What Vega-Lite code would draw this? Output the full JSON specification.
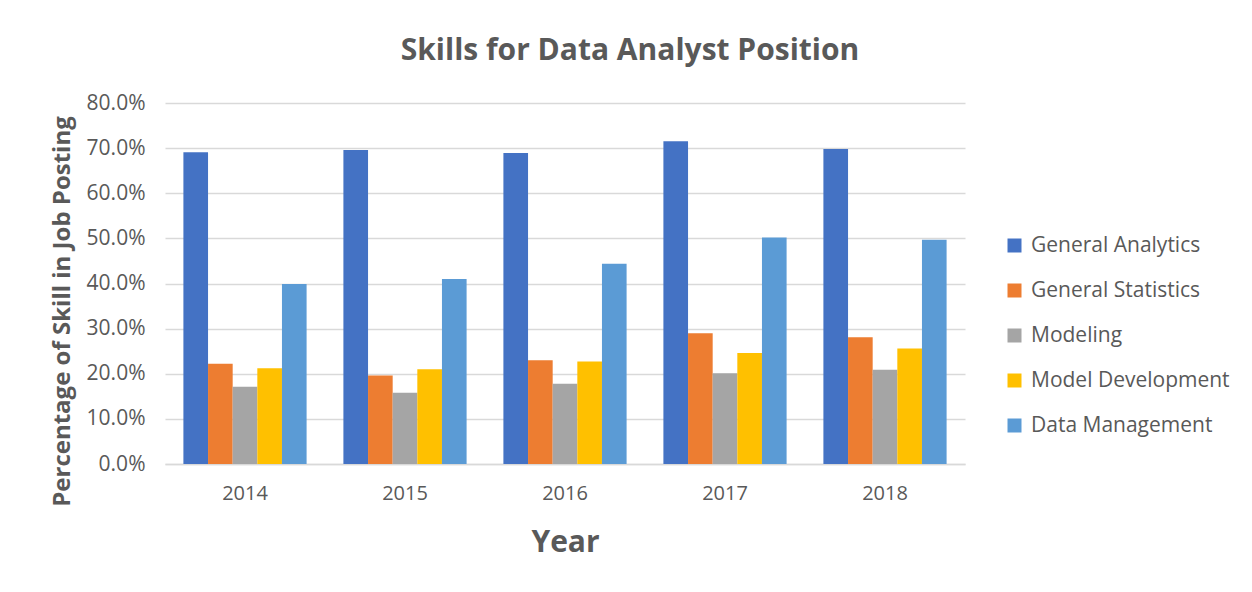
{
  "$schema": "https://vega.github.io/schema/vega-lite/v6.json",
  "autosize": "none",
  "width": 800,
  "height": 361,
  "padding": {"left": 165, "top": 103, "right": 287, "bottom": 128},
  "background": "white",
  "title": {
    "text": "Skills for Data Analyst Position",
    "font": "Open Sans",
    "fontSize": 30,
    "fontWeight": "bold",
    "color": "#595959",
    "anchor": "middle",
    "dx": 65,
    "offset": 26
  },
  "data": {
    "values": [
      {"Year": "2014", "Skill": "General Analytics", "Value": 0.691},
      {"Year": "2014", "Skill": "General Statistics", "Value": 0.222},
      {"Year": "2014", "Skill": "Modeling", "Value": 0.171},
      {"Year": "2014", "Skill": "Model Development", "Value": 0.212},
      {"Year": "2014", "Skill": "Data Management", "Value": 0.399},
      {"Year": "2015", "Skill": "General Analytics", "Value": 0.696},
      {"Year": "2015", "Skill": "General Statistics", "Value": 0.196},
      {"Year": "2015", "Skill": "Modeling", "Value": 0.158},
      {"Year": "2015", "Skill": "Model Development", "Value": 0.210},
      {"Year": "2015", "Skill": "Data Management", "Value": 0.410},
      {"Year": "2016", "Skill": "General Analytics", "Value": 0.689},
      {"Year": "2016", "Skill": "General Statistics", "Value": 0.230},
      {"Year": "2016", "Skill": "Modeling", "Value": 0.178},
      {"Year": "2016", "Skill": "Model Development", "Value": 0.227},
      {"Year": "2016", "Skill": "Data Management", "Value": 0.444},
      {"Year": "2017", "Skill": "General Analytics", "Value": 0.715},
      {"Year": "2017", "Skill": "General Statistics", "Value": 0.290},
      {"Year": "2017", "Skill": "Modeling", "Value": 0.201},
      {"Year": "2017", "Skill": "Model Development", "Value": 0.246},
      {"Year": "2017", "Skill": "Data Management", "Value": 0.502},
      {"Year": "2018", "Skill": "General Analytics", "Value": 0.698},
      {"Year": "2018", "Skill": "General Statistics", "Value": 0.281},
      {"Year": "2018", "Skill": "Modeling", "Value": 0.209},
      {"Year": "2018", "Skill": "Model Development", "Value": 0.256},
      {"Year": "2018", "Skill": "Data Management", "Value": 0.497}
    ]
  },
  "mark": {"type": "bar"},
  "encoding": {
    "x": {
      "field": "Year",
      "type": "nominal",
      "scale": {"paddingInner": 0.23, "paddingOuter": 0.115},
      "axis": {
        "title": "Year",
        "labelAngle": 0,
        "labelFont": "Open Sans",
        "labelFontSize": 20,
        "labelColor": "#595959",
        "labelPadding": 19,
        "ticks": false,
        "domainColor": "#D9D9D9",
        "domainWidth": 1.5,
        "titleFont": "Open Sans",
        "titleFontSize": 30,
        "titleFontWeight": "bold",
        "titleColor": "#595959",
        "titlePadding": 24
      }
    },
    "xOffset": {
      "field": "Skill",
      "type": "nominal",
      "sort": ["General Analytics", "General Statistics", "Modeling", "Model Development", "Data Management"],
      "scale": {"paddingInner": 0, "paddingOuter": 0}
    },
    "y": {
      "field": "Value",
      "type": "quantitative",
      "scale": {"domain": [0, 0.8], "nice": false},
      "axis": {
        "title": "Percentage of Skill in Job Posting",
        "format": ".1%",
        "values": [0, 0.1, 0.2, 0.3, 0.4, 0.5, 0.6, 0.7, 0.8],
        "labelFont": "Open Sans",
        "labelFontSize": 21,
        "labelColor": "#595959",
        "labelPadding": 20,
        "ticks": false,
        "domain": false,
        "grid": true,
        "gridColor": "#D9D9D9",
        "gridWidth": 1.5,
        "titleFont": "Open Sans",
        "titleFontSize": 24,
        "titleFontWeight": "bold",
        "titleColor": "#595959",
        "titleAngle": -90,
        "titleAlign": "center",
        "titleBaseline": "middle",
        "titleX": -103,
        "titleY": 208
      }
    },
    "color": {
      "field": "Skill",
      "type": "nominal",
      "sort": ["General Analytics", "General Statistics", "Modeling", "Model Development", "Data Management"],
      "scale": {
        "domain": ["General Analytics", "General Statistics", "Modeling", "Model Development", "Data Management"],
        "range": ["#4472C4", "#ED7D31", "#A5A5A5", "#FFC000", "#5B9BD5"]
      },
      "legend": {
        "title": null,
        "orient": "none",
        "legendX": 839,
        "legendY": 132,
        "symbolType": "square",
        "symbolSize": 196,
        "symbolStrokeWidth": 0,
        "labelFont": "Open Sans",
        "labelFontSize": 21,
        "labelColor": "#595959",
        "labelOffset": 6,
        "rowPadding": 23,
        "labelLimit": 300
      }
    }
  },
  "config": {
    "view": {"stroke": null}
  }
}
